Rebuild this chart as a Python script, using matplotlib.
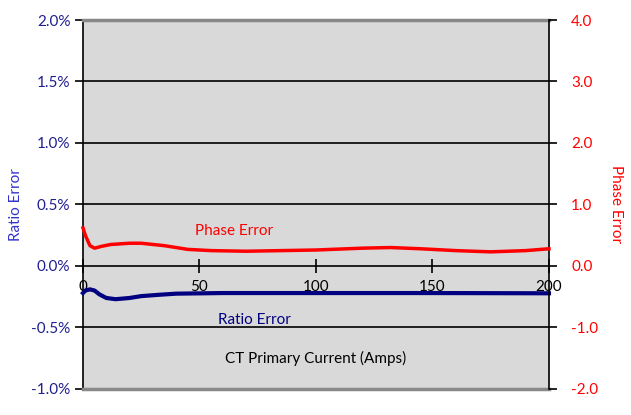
import numpy as np
import matplotlib.pyplot as plt
from matplotlib.ticker import FuncFormatter, MultipleLocator

plt.rcParams['font.family'] = ['Lato', 'DejaVu Sans']

# CT primary current (Amps)
current_phase = [0, 1, 3, 5, 8, 12, 20, 25, 35, 45, 55, 70, 100, 120, 132, 145, 160, 175, 190, 200]
phase_error = [0.62, 0.50, 0.33, 0.29, 0.32, 0.35, 0.37, 0.37, 0.33, 0.27, 0.25, 0.24, 0.26,
               0.29, 0.30, 0.28, 0.25, 0.23, 0.25, 0.28]

current_ratio = [0, 1, 3, 5, 7, 10, 14, 20, 25, 32, 40, 60, 100, 150, 200]
ratio_error = [-0.22, -0.20, -0.19, -0.20, -0.23, -0.26, -0.27, -0.26, -0.245, -0.235,
               -0.225, -0.22, -0.22, -0.22, -0.222]

fig = plt.figure(figsize=(6.31, 4.15), dpi=100)
ax = fig.add_axes([0.1315, 0.0627, 0.7385, 0.8891])
ax2 = ax.twinx()

ax.set_facecolor('#d9d9d9')
ax.set_xlim(0, 200)
ax.set_ylim(-1.0, 2.0)
ax2.set_ylim(-2.0, 4.0)

# grid and borders
for v in [-0.5, 0.5, 1.0, 1.5]:
    ax.axhline(v, color='black', lw=1.2, zorder=1)
ax.axhline(-1.0, color='#888888', lw=2.5, zorder=3, clip_on=False)
ax.spines['top'].set_color('#888888')
ax.spines['top'].set_linewidth(2.5)
ax2.spines['top'].set_visible(False)
ax2.spines['bottom'].set_visible(False)
ax2.spines['left'].set_visible(False)
ax.spines['right'].set_visible(False)
ax.spines['left'].set_linewidth(1.2)
ax2.spines['right'].set_linewidth(1.2)

ax.spines['bottom'].set_position(('data', 0))
ax.spines['bottom'].set_linewidth(1.2)
ax.set_xticks([0, 50, 100, 150, 200])
ax.tick_params(axis='x', direction='inout', length=10, width=1.2, pad=5,
               labelsize=11, labelcolor='black')

ax.yaxis.set_major_locator(MultipleLocator(0.5))
ax.yaxis.set_major_formatter(FuncFormatter(lambda v, p: '%.1f%%' % v))
ax.tick_params(axis='y', direction='out', length=6, width=1.2, labelsize=11,
               labelcolor='#1f1f8f', pad=3)

ax2.yaxis.set_major_locator(MultipleLocator(1.0))
ax2.yaxis.set_major_formatter(FuncFormatter(lambda v, p: '%.1f' % v))
ax2.tick_params(axis='y', direction='out', length=6, width=1.2, labelsize=11,
                labelcolor='#ff0000', pad=10)

ax2.plot(current_phase, phase_error, color='#ff0000', lw=2.5, zorder=4, clip_on=False)
ax.plot(current_ratio, ratio_error, color='#000080', lw=3, zorder=4, clip_on=False)
ax.set_zorder(2)
ax.patch.set_visible(True)
ax2.set_zorder(3)
ax2.patch.set_visible(False)

ax.set_ylabel('Ratio Error', color='#3333cc', fontsize=11, labelpad=6)
ax2.set_ylabel('Phase Error', color='#ff0000', fontsize=11, rotation=270, labelpad=18)

ax.text(48, 0.25, 'Phase Error', color='#ff0000', fontsize=11)
ax.text(58, -0.47, 'Ratio Error', color='#000080', fontsize=11)
ax.text(100, -0.75, 'CT Primary Current (Amps)', color='black', fontsize=11,
        ha='center', va='center')

plt.savefig('out.png', dpi=100)
